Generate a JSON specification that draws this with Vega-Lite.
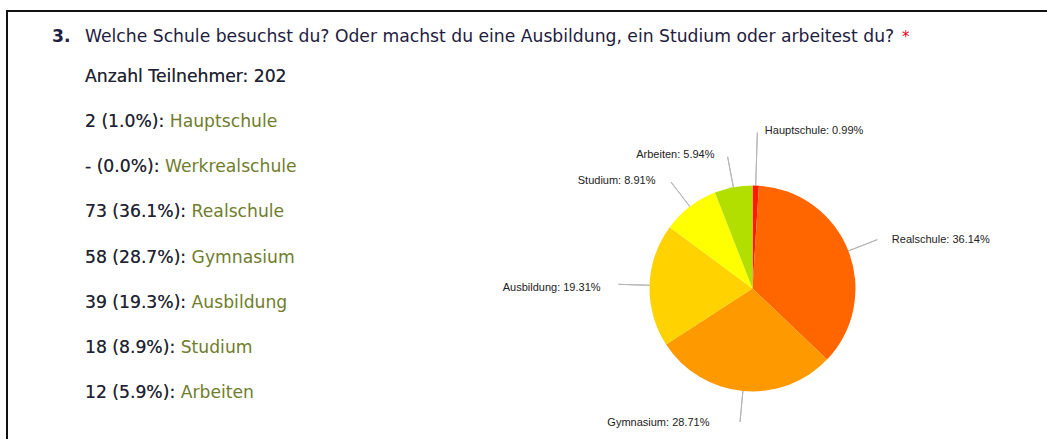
{
  "$schema": "https://vega.github.io/schema/vega-lite/v6.json",
  "width": 1060,
  "height": 450,
  "autosize": {"type": "none"},
  "padding": {"left": 7, "top": 11, "right": 0, "bottom": 0},
  "background": "white",
  "config": {
    "view": {"stroke": "#111111", "strokeWidth": 2},
    "text": {"font": "DejaVu Sans"}
  },
  "datasets": {
    "header": [
      {"num": "3.", "question": "Welche Schule besuchst du? Oder machst du eine Ausbildung, ein Studium oder arbeitest du?", "required": "*"}
    ],
    "list": [
      {"row": 0, "prefix": "Anzahl Teilnehmer: 202", "line": "Anzahl Teilnehmer: 202"},
      {"row": 1, "prefix": "2 (1.0%):", "line": "2 (1.0%): Hauptschule"},
      {"row": 2, "prefix": "- (0.0%):", "line": "- (0.0%): Werkrealschule"},
      {"row": 3, "prefix": "73 (36.1%):", "line": "73 (36.1%): Realschule"},
      {"row": 4, "prefix": "58 (28.7%):", "line": "58 (28.7%): Gymnasium"},
      {"row": 5, "prefix": "39 (19.3%):", "line": "39 (19.3%): Ausbildung"},
      {"row": 6, "prefix": "18 (8.9%):", "line": "18 (8.9%): Studium"},
      {"row": 7, "prefix": "12 (5.9%):", "line": "12 (5.9%): Arbeiten"}
    ],
    "pie": [
      {"rank": 1, "answer": "Hauptschule", "n": 2, "label": "Hauptschule: 0.99%"},
      {"rank": 2, "answer": "Werkrealschule", "n": 0, "label": "Werkrealschule: 0%"},
      {"rank": 3, "answer": "Realschule", "n": 73, "label": "Realschule: 36.14%"},
      {"rank": 4, "answer": "Gymnasium", "n": 58, "label": "Gymnasium: 28.71%"},
      {"rank": 5, "answer": "Ausbildung", "n": 39, "label": "Ausbildung: 19.31%"},
      {"rank": 6, "answer": "Studium", "n": 18, "label": "Studium: 8.91%"},
      {"rank": 7, "answer": "Arbeiten", "n": 12, "label": "Arbeiten: 5.94%"}
    ]
  },
  "resolve": {"scale": {"y": "independent", "theta": "shared"}},
  "layer": [
    {
      "data": {"name": "header"},
      "mark": {"type": "text", "align": "left", "baseline": "middle", "fontSize": 17.2, "fontWeight": "bold", "color": "#1e2040"},
      "encoding": {
        "x": {"datum": 45, "type": "quantitative", "scale": {"domain": [0, 1060], "nice": false, "zero": false}, "axis": null},
        "y": {"datum": 26, "type": "quantitative", "scale": {"domain": [0, 450], "nice": false, "reverse": true}, "axis": null},
        "text": {"field": "num"}
      }
    },
    {
      "data": {"name": "header"},
      "mark": {"type": "text", "align": "left", "baseline": "middle", "fontSize": 17.2, "color": "#1e2040"},
      "encoding": {
        "x": {"datum": 78, "type": "quantitative"},
        "y": {"datum": 26, "type": "quantitative", "scale": {"domain": [0, 450], "nice": false, "reverse": true}, "axis": null},
        "text": {"field": "question"}
      }
    },
    {
      "data": {"name": "header"},
      "mark": {"type": "text", "align": "left", "baseline": "middle", "fontSize": 15, "color": "#e8001c"},
      "encoding": {
        "x": {"datum": 895, "type": "quantitative"},
        "y": {"datum": 26, "type": "quantitative", "scale": {"domain": [0, 450], "nice": false, "reverse": true}, "axis": null},
        "text": {"field": "required"}
      }
    },
    {
      "data": {"name": "list"},
      "mark": {"type": "text", "align": "left", "baseline": "middle", "fontSize": 17.2, "color": "#6f7d2c"},
      "encoding": {
        "x": {"datum": 78, "type": "quantitative"},
        "y": {"field": "row", "type": "ordinal", "scale": {"type": "point", "range": [66, 382], "padding": 0}, "axis": null},
        "text": {"field": "line"}
      }
    },
    {
      "data": {"name": "list"},
      "mark": {"type": "text", "align": "left", "baseline": "middle", "fontSize": 17.2, "color": "#1e2040"},
      "encoding": {
        "x": {"datum": 78, "type": "quantitative"},
        "y": {"field": "row", "type": "ordinal", "scale": {"type": "point", "range": [66, 382], "padding": 0}, "axis": null},
        "text": {"field": "prefix"}
      }
    },
    {
      "data": {"name": "pie"},
      "mark": {"type": "arc", "innerRadius": 103, "outerRadius": 134, "padAngle": 3, "fillOpacity": 0, "stroke": "#b5b5b5", "strokeWidth": 1},
      "encoding": {
        "x": {"datum": 745.5, "type": "quantitative"},
        "y": {"datum": 277.5, "type": "quantitative", "scale": {"domain": [0, 450], "nice": false, "reverse": true}, "axis": null},
        "theta": {"field": "n", "type": "quantitative", "stack": true},
        "order": {"field": "rank", "type": "quantitative"},
        "strokeOpacity": {"condition": {"test": "datum.answer == 'Hauptschule' || datum.answer == 'Werkrealschule'", "value": 0}, "value": 1}
      }
    },
    {
      "data": {"name": "pie"},
      "mark": {"type": "arc", "innerRadius": 103, "outerRadius": 156, "padAngle": 3, "fillOpacity": 0, "stroke": "#b5b5b5", "strokeWidth": 1},
      "encoding": {
        "x": {"datum": 745.5, "type": "quantitative"},
        "y": {"datum": 277.5, "type": "quantitative", "scale": {"domain": [0, 450], "nice": false, "reverse": true}, "axis": null},
        "theta": {"field": "n", "type": "quantitative", "stack": true},
        "order": {"field": "rank", "type": "quantitative"},
        "strokeOpacity": {"condition": {"test": "datum.answer == 'Hauptschule'", "value": 1}, "value": 0}
      }
    },
    {
      "data": {"name": "pie"},
      "mark": {"type": "arc", "outerRadius": 103},
      "encoding": {
        "x": {"datum": 745.5, "type": "quantitative"},
        "y": {"datum": 277.5, "type": "quantitative", "scale": {"domain": [0, 450], "nice": false, "reverse": true}, "axis": null},
        "theta": {"field": "n", "type": "quantitative", "stack": true},
        "order": {"field": "rank", "type": "quantitative"},
        "color": {"field": "answer", "type": "nominal", "legend": null,
          "scale": {"domain": ["Hauptschule", "Werkrealschule", "Realschule", "Gymnasium", "Ausbildung", "Studium", "Arbeiten"],
                    "range": ["#ff1a00", "#ff3300", "#ff6600", "#ff9900", "#ffd200", "#ffff00", "#b3df00"]}}
      }
    },
    {
      "data": {"name": "pie"},
      "mark": {"type": "text", "radius": 140, "align": "left", "baseline": "middle", "dx": 9, "dy": 3, "font": "Liberation Sans", "fontSize": 11, "color": "#222222"},
      "encoding": {
        "x": {"datum": 745.5, "type": "quantitative"},
        "y": {"datum": 277.5, "type": "quantitative", "scale": {"domain": [0, 450], "nice": false, "reverse": true}, "axis": null},
        "theta": {"field": "n", "type": "quantitative", "stack": true},
        "order": {"field": "rank", "type": "quantitative"},
        "text": {"field": "label"},
        "opacity": {"condition": {"test": "datum.answer == 'Realschule'", "value": 1}, "value": 0}
      }
    },
    {
      "data": {"name": "pie"},
      "mark": {"type": "text", "radius": 140, "align": "left", "baseline": "middle", "dx": 8, "dy": -18, "font": "Liberation Sans", "fontSize": 11, "color": "#222222"},
      "encoding": {
        "x": {"datum": 745.5, "type": "quantitative"},
        "y": {"datum": 277.5, "type": "quantitative", "scale": {"domain": [0, 450], "nice": false, "reverse": true}, "axis": null},
        "theta": {"field": "n", "type": "quantitative", "stack": true},
        "order": {"field": "rank", "type": "quantitative"},
        "text": {"field": "label"},
        "opacity": {"condition": {"test": "datum.answer == 'Hauptschule'", "value": 1}, "value": 0}
      }
    },
    {
      "data": {"name": "pie"},
      "mark": {"type": "text", "radius": 140, "align": "right", "baseline": "middle", "dx": -12, "dy": 4, "font": "Liberation Sans", "fontSize": 11, "color": "#222222"},
      "encoding": {
        "x": {"datum": 745.5, "type": "quantitative"},
        "y": {"datum": 277.5, "type": "quantitative", "scale": {"domain": [0, 450], "nice": false, "reverse": true}, "axis": null},
        "theta": {"field": "n", "type": "quantitative", "stack": true},
        "order": {"field": "rank", "type": "quantitative"},
        "text": {"field": "label"},
        "opacity": {"condition": {"test": "datum.answer == 'Ausbildung' || datum.answer == 'Studium' || datum.answer == 'Arbeiten'", "value": 1}, "value": 0}
      }
    },
    {
      "data": {"name": "pie"},
      "mark": {"type": "text", "radius": 140, "align": "right", "baseline": "middle", "dx": -30, "dy": -5, "font": "Liberation Sans", "fontSize": 11, "color": "#222222"},
      "encoding": {
        "x": {"datum": 745.5, "type": "quantitative"},
        "y": {"datum": 277.5, "type": "quantitative", "scale": {"domain": [0, 450], "nice": false, "reverse": true}, "axis": null},
        "theta": {"field": "n", "type": "quantitative", "stack": true},
        "order": {"field": "rank", "type": "quantitative"},
        "text": {"field": "label"},
        "opacity": {"condition": {"test": "datum.answer == 'Gymnasium'", "value": 1}, "value": 0}
      }
    }
  ]
}
